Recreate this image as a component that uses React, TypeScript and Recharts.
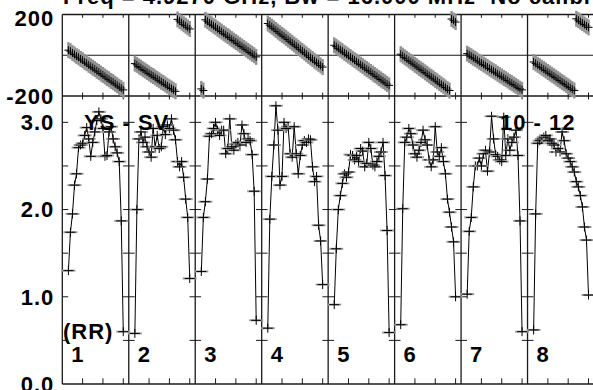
import React from 'react';
import { LineChart, Line, XAxis, YAxis, ReferenceLine } from 'recharts';

// channel numbers plotted in every IF panel
const CHANNELS = [3, 4, 5, 6, 7, 8, 9, 10, 11, 12, 13, 14, 15, 16, 17, 18, 19, 20, 21, 22, 23, 24, 25, 26, 27, 28, 29, 30];
const IF_LABELS = ['1', '2', '3', '4', '5', '6', '7', '8'];
const X_TICK_CHANNELS = [10, 20, 30];
const PHASE_TICKS = [-200, 200];
const AMP_TICKS = [0, 1, 2, 3];
const AMP_MINOR_TICKS = [0.5, 1, 1.5, 2, 2.5, 3];

const AMP_IF1 = [1.30, 1.74, 1.95, 2.28, 2.41, 2.71, 2.74, 2.76, 2.85, 2.94, 2.81, 2.61, 2.77, 2.89, 3.02, 3.12, 3.04, 2.93, 2.61, 2.62, 2.89, 2.95, 2.81, 2.72, 2.65, 2.55, 1.87, 0.60];
const AMP_IF2 = [0.58, 2.00, 2.81, 2.89, 2.77, 2.83, 2.72, 2.66, 2.60, 2.93, 2.72, 2.85, 2.70, 2.72, 2.95, 2.86, 2.97, 2.93, 3.04, 2.91, 2.80, 2.55, 2.49, 2.55, 2.37, 2.12, 1.91, 1.21];
const AMP_IF3 = [1.29, 1.91, 2.09, 2.35, 2.84, 2.87, 2.93, 3.00, 2.91, 2.85, 2.91, 2.91, 2.64, 2.70, 3.04, 2.72, 2.68, 2.75, 2.77, 2.74, 2.97, 2.87, 2.77, 2.81, 2.79, 2.63, 2.21, 0.73];
const AMP_IF4 = [0.64, 1.89, 2.38, 2.74, 3.19, 2.91, 2.28, 2.38, 3.00, 2.93, 2.95, 2.64, 2.60, 2.95, 2.64, 2.41, 2.62, 2.74, 2.79, 2.77, 2.81, 2.80, 2.49, 2.32, 2.38, 1.82, 1.64, 1.14];
const AMP_IF5 = [0.91, 1.55, 2.00, 2.16, 2.30, 2.41, 2.37, 2.43, 2.63, 2.62, 2.57, 2.62, 2.55, 2.70, 2.67, 2.49, 2.53, 2.77, 2.70, 2.51, 2.49, 2.55, 2.61, 2.66, 2.77, 2.39, 1.76, 0.59];
const AMP_IF6 = [0.68, 2.01, 2.77, 2.83, 2.93, 2.87, 2.74, 2.64, 2.60, 2.68, 2.77, 2.91, 2.80, 2.74, 2.57, 2.49, 2.57, 2.95, 2.66, 2.61, 2.71, 2.55, 2.41, 2.12, 1.97, 1.80, 1.63, 1.00];
const AMP_IF7 = [1.03, 1.75, 1.91, 2.26, 2.50, 2.50, 2.59, 2.50, 2.64, 2.68, 2.44, 2.66, 3.07, 2.81, 2.63, 2.61, 2.57, 2.55, 3.06, 2.62, 2.81, 2.68, 2.77, 2.83, 2.91, 2.62, 1.87, 0.60];
const AMP_IF8 = [0.62, 1.95, 2.76, 2.79, 2.81, 2.83, 2.85, 2.79, 2.81, 2.76, 2.74, 2.66, 2.70, 2.66, 2.89, 2.79, 2.64, 2.59, 2.55, 2.49, 2.43, 2.32, 2.26, 2.16, 2.03, 1.80, 1.65, 1.02];

const PHASE_IF1 = [25, 20, 11, 4, -4, -10, -18, -24, -33, -39, -47, -54, -61, -68, -76, -82, -90, -97, -104, -112, -118, -126, -132, -140, -147, -155, -161, -170];
const PHASE_IF2 = [-41, -47, -55, -61, -69, -75, -82, -89, -96, -102, -109, -116, -123, -130, -136, -143, -150, -157, -163, -170, -177, 176, 168, 160, 152, 145, 137, 129];
const PHASE_IF3 = [-165, -173, 174, 167, 159, 152, 145, 138, 130, 123, 116, 108, 101, 94, 87, 79, 72, 65, 58, 50, 43, 36, 29, 21, 14, 7, 0, -8];
const PHASE_IF4 = [156, 148, 140, 132, 124, 116, 108, 100, 93, 85, 77, 69, 61, 53, 45, 37, 29, 21, 13, 5, -3, -11, -19, -27, -35, -42, -50, -58];
const PHASE_IF5 = [49, 42, 34, 27, 20, 12, 5, -2, -9, -17, -24, -31, -39, -46, -53, -61, -68, -75, -82, -90, -97, -104, -112, -119, -126, -133, -141, -148];
const PHASE_IF6 = [5, -2, -10, -17, -25, -32, -39, -47, -54, -62, -69, -76, -84, -91, -99, -106, -113, -121, -128, -136, -143, -150, -158, -166, -173, 178, 171, 163];
const PHASE_IF7 = [8, 1, -5, -12, -18, -25, -32, -38, -45, -51, -58, -65, -71, -78, -84, -91, -98, -104, -111, -117, -124, -131, -137, -144, -150, -157, -164, -170];
const PHASE_IF8 = [-33, -40, -47, -54, -61, -68, -75, -82, -89, -96, -103, -110, -117, -124, -131, -138, -145, -152, -159, -166, -173, 179, 172, 165, 158, 151, 144, 137];

const AMPS = [AMP_IF1, AMP_IF2, AMP_IF3, AMP_IF4, AMP_IF5, AMP_IF6, AMP_IF7, AMP_IF8];
const PHASES = [PHASE_IF1, PHASE_IF2, PHASE_IF3, PHASE_IF4, PHASE_IF5, PHASE_IF6, PHASE_IF7, PHASE_IF8];

// layout
const PANEL_WIDTH = 32.7; // channel units per IF panel
const X_MAX = PANEL_WIDTH * IF_LABELS.length;
const CHART_W = 620;
const AXIS_W = 62.3;
const RIGHT = CHART_W - 594;
const PANEL_PX = (594 - AXIS_W) / IF_LABELS.length;

const FONT = '"Liberation Sans", Arial, Helvetica, sans-serif';
const labelStyle: React.CSSProperties = { fontFamily: FONT, fontWeight: 700, fontSize: 22, letterSpacing: 1, whiteSpace: 'pre' };
const LINE = '#1a1a1a';

const rows: { x: number; amp: number | null; phase: number | null }[] = [];
AMPS.forEach((amps, p) => {
  CHANNELS.forEach((ch, i) => {
    rows.push({ x: p * PANEL_WIDTH + ch, amp: amps[i], phase: PHASES[p][i] });
  });
  rows.push({ x: p * PANEL_WIDTH + 31.6, amp: null, phase: null });
});

const edges = IF_LABELS.map((_, i) => i * PANEL_WIDTH);
const xTicks = edges.flatMap((e) => X_TICK_CHANNELS.map((c) => e + c));

const AmpMark = (props: any) => {
  const { cx, cy, index } = props;
  if (cx == null || cy == null || Number.isNaN(cy)) return <g key={`a${index}`} />;
  return (
    <g key={`a${index}`}>
      <line x1={cx - 7} x2={cx + 7} y1={cy} y2={cy} stroke="#9a9a9a" strokeWidth={2} />
      <line x1={cx - 5} x2={cx + 5} y1={cy} y2={cy} stroke="#000" strokeWidth={1} />
      <line x1={cx} x2={cx} y1={cy - 4.5} y2={cy + 4.5} stroke="#000" strokeWidth={1} />
    </g>
  );
};

const PhaseMark = (props: any) => {
  const { cx, cy, index } = props;
  if (cx == null || cy == null || Number.isNaN(cy)) return <g key={`p${index}`} />;
  return (
    <g key={`p${index}`}>
      <rect x={cx - 1.2} y={cy - 8} width={2.4} height={16} fill="#929292" />
      <line x1={cx - 4} x2={cx + 4} y1={cy} y2={cy} stroke="#000" strokeWidth={1} />
      <line x1={cx} x2={cx} y1={cy - 4} y2={cy + 4} stroke="#000" strokeWidth={1} />
    </g>
  );
};

const makeTick = (fmt: (v: number) => string) => (props: any) => {
  const { x, y, payload } = props;
  const shift = payload.value === 200 ? 4 : 0;
  return (
    <text x={x} y={y + shift} dy="0.36em" textAnchor="end" fill="#000" style={labelStyle}>
      {fmt(payload.value)}
    </text>
  );
};

const App: React.FC = () => {
  return (
    <div style={{ position: 'absolute', left: 0, top: 0, width: 593, height: 390, overflow: 'hidden', background: '#fff' }}>
      {/* amplitude panel */}
      <div style={{ position: 'absolute', left: 0, top: 90 }}>
        <LineChart width={CHART_W} height={310} data={rows} margin={{ top: 6, right: RIGHT, bottom: 16, left: 0 }}>
          <XAxis type="number" dataKey="x" domain={[0, X_MAX]} hide />
          <YAxis
            type="number"
            domain={[0, 3.302]}
            ticks={AMP_TICKS}
            interval={0}
            width={AXIS_W}
            axisLine={false}
            tickLine={false}
            tickSize={0}
            tickMargin={8}
            tick={makeTick((v) => v.toFixed(1))}
          />
          <ReferenceLine y={0} stroke={LINE} strokeWidth={1.4} />
          {[...edges, X_MAX].map((e) => (
            <ReferenceLine key={`ae${e}`} x={e} stroke={LINE} strokeWidth={1.3} />
          ))}
          {xTicks.map((t) => (
            <ReferenceLine key={`ab${t}`} ifOverflow="visible" stroke={LINE} segment={[{ x: t, y: 0 }, { x: t, y: 0.065 }]} />
          ))}
          {edges.flatMap((e, i) =>
            AMP_MINOR_TICKS.map((v) => (
              <ReferenceLine
                key={`at${i}-${v}`}
                ifOverflow="visible"
                stroke={LINE}
                segment={[{ x: i === 0 ? e : e - 2.8, y: v }, { x: e + 2.9, y: v }]}
              />
            ))
          )}
          <Line
            dataKey="amp"
            stroke="#000"
            strokeWidth={1}
            dot={AmpMark}
            activeDot={false}
            connectNulls={false}
            isAnimationActive={false}
          />
        </LineChart>
      </div>

      {/* phase panel */}
      <div style={{ position: 'absolute', left: 0, top: 0 }}>
        <LineChart width={CHART_W} height={112} data={rows} margin={{ top: 14.5, right: RIGHT, bottom: 16, left: 0 }}>
          <XAxis type="number" dataKey="x" domain={[0, X_MAX]} hide />
          <YAxis
            type="number"
            domain={[-200, 200]}
            ticks={PHASE_TICKS}
            interval={0}
            width={AXIS_W}
            axisLine={false}
            tickLine={false}
            tickSize={0}
            tickMargin={8}
            tick={makeTick((v) => String(v))}
          />
          <ReferenceLine y={0} stroke={LINE} strokeWidth={1.2} />
          <ReferenceLine y={200} stroke={LINE} strokeWidth={1.4} />
          <ReferenceLine y={-200} stroke={LINE} strokeWidth={1.4} />
          {[...edges, X_MAX].map((e) => (
            <ReferenceLine key={`pe${e}`} x={e} stroke={LINE} strokeWidth={1.3} />
          ))}
          {xTicks.map((t) => (
            <ReferenceLine key={`pt${t}`} ifOverflow="visible" stroke={LINE} segment={[{ x: t, y: 200 }, { x: t, y: 184 }]} />
          ))}
          {xTicks.map((t) => (
            <ReferenceLine key={`pb${t}`} ifOverflow="visible" stroke={LINE} segment={[{ x: t, y: -217 }, { x: t, y: -183 }]} />
          ))}
          <Line dataKey="phase" stroke="none" dot={PhaseMark} activeDot={false} isAnimationActive={false} />
        </LineChart>
      </div>

      {/* annotation text */}
      <svg width={593} height={390} style={{ position: 'absolute', left: 0, top: 0, pointerEvents: 'none' }}>
        <text x={63} y={4} style={labelStyle}>{'Freq = 4.9270 GHz, Bw = 16.000 MHz  No calibration'}</text>
        <text x={84} y={130} style={labelStyle}>YS - SV</text>
        <text x={500} y={130} style={labelStyle}>10 - 12</text>
        <text x={63} y={339} style={labelStyle}>(RR)</text>
        {IF_LABELS.map((l, i) => (
          <text key={l} x={AXIS_W + i * PANEL_PX + 9} y={362} style={labelStyle}>
            {l}
          </text>
        ))}
      </svg>
    </div>
  );
};

export default App;
